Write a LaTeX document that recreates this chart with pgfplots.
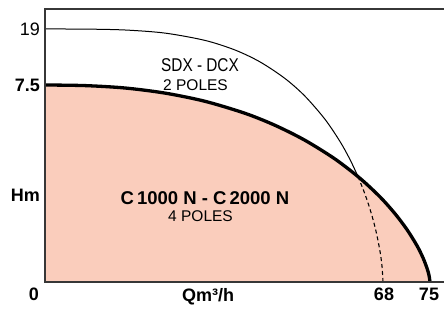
\documentclass[border=0pt]{standalone}
\usepackage{fontspec}
\setmainfont{Liberation Sans}
\newfontfamily\condfont[FakeStretch=0.83]{Liberation Sans}
\usepackage{pgfplots}
\pgfplotsset{compat=1.18}
\definecolor{fillc}{RGB}{250,205,188}
\definecolor{axc}{RGB}{55,55,55}
\begin{document}
\begin{tikzpicture}
\useasboundingbox (-45bp,-27bp) rectangle (399bp,282bp);
\begin{axis}[
  scale only axis, width=399bp, height=273bp,
  xmin=0, xmax=399, ymin=0, ymax=273,
  clip=false,
  axis line style={draw=none},
  major tick length=0pt,
  /pgf/number format/assume math mode=true,
  xtick={163,339,384},
  xticklabels={\textbf{Qm³/h},\textbf{68},\textbf{75}},
  ytick={87,197,253},
  yticklabels={\textbf{Hm},\textbf{7.5},19},
  ticklabel style={font=\fontsize{18bp}{20bp}\selectfont, text=black, inner sep=0pt},
  xticklabel style={anchor=north, yshift=-6bp},
  yticklabel style={anchor=east, xshift=-5bp},
]
% filled area under 4-pole curve
\addplot[draw=none, fill=fillc, smooth] coordinates {
 (0,197) (40,196.4) (80,194.0) (120,188.9) (160,180.7) (200,168.7) (230,156.7) (260,141.7) (290,123.0) (315,103.7) (335,85.1) (350,68.3) (362,52.4) (372,36.3) (378,24.2) (382,13.8) (384,6.7) (385,0)
} \closedcycle;
% 2-pole curve (thin)
\addplot[black, line width=1bp, smooth] coordinates {
 (0,253) (40,252.9) (80,252.0) (120,248.9) (160,241.6) (190,232.0) (215,220.1) (240,203.5) (260,185.8) (280,162.7) (295,140.5) (305,122.5) (313,105.5)
};
% dashed continuation
\addplot[black, line width=1.1bp, dash pattern=on 4bp off 3bp, smooth] coordinates {
 (313,105.5) (320,87.8) (326,69.6) (331,50.8) (335,30.7) (337,15.8) (338,0)
};
% 4-pole curve (thick)
\addplot[black, line width=3.3bp, smooth] coordinates {
 (0,197) (40,196.4) (80,194.0) (120,188.9) (160,180.7) (200,168.7) (230,156.7) (260,141.7) (290,123.0) (315,103.7) (335,85.1) (350,68.3) (362,52.4) (372,36.3) (378,24.2) (382,13.8) (384,6.7) (385,0)
};
% frame
\draw[axc, line width=1.3bp] (axis cs:399,273) -- (axis cs:0,273) -- (axis cs:0,0) -- (axis cs:399,0);
% corner label 0
\node[anchor=north, inner sep=0pt, yshift=-6bp] at (axis cs:-11,0) {\fontsize{18bp}{20bp}\selectfont\bfseries 0};
% texts
\node[anchor=base, inner sep=0pt] at (axis cs:155,210.5) {\condfont\fontsize{18.5bp}{20bp}\selectfont SDX - DCX};
\node[anchor=base, inner sep=0pt] at (axis cs:150.5,191.3) {\fontsize{15.5bp}{17bp}\selectfont 2 POLES};
\node[anchor=base, inner sep=0pt] at (axis cs:160,77) {\fontsize{18.5bp}{20bp}\selectfont\bfseries C\,1000 N - C\,2000 N};
\node[anchor=base, inner sep=0pt] at (axis cs:155.5,60.3) {\fontsize{15.5bp}{17bp}\selectfont 4 POLES};
\end{axis}
\end{tikzpicture}
\end{document}
